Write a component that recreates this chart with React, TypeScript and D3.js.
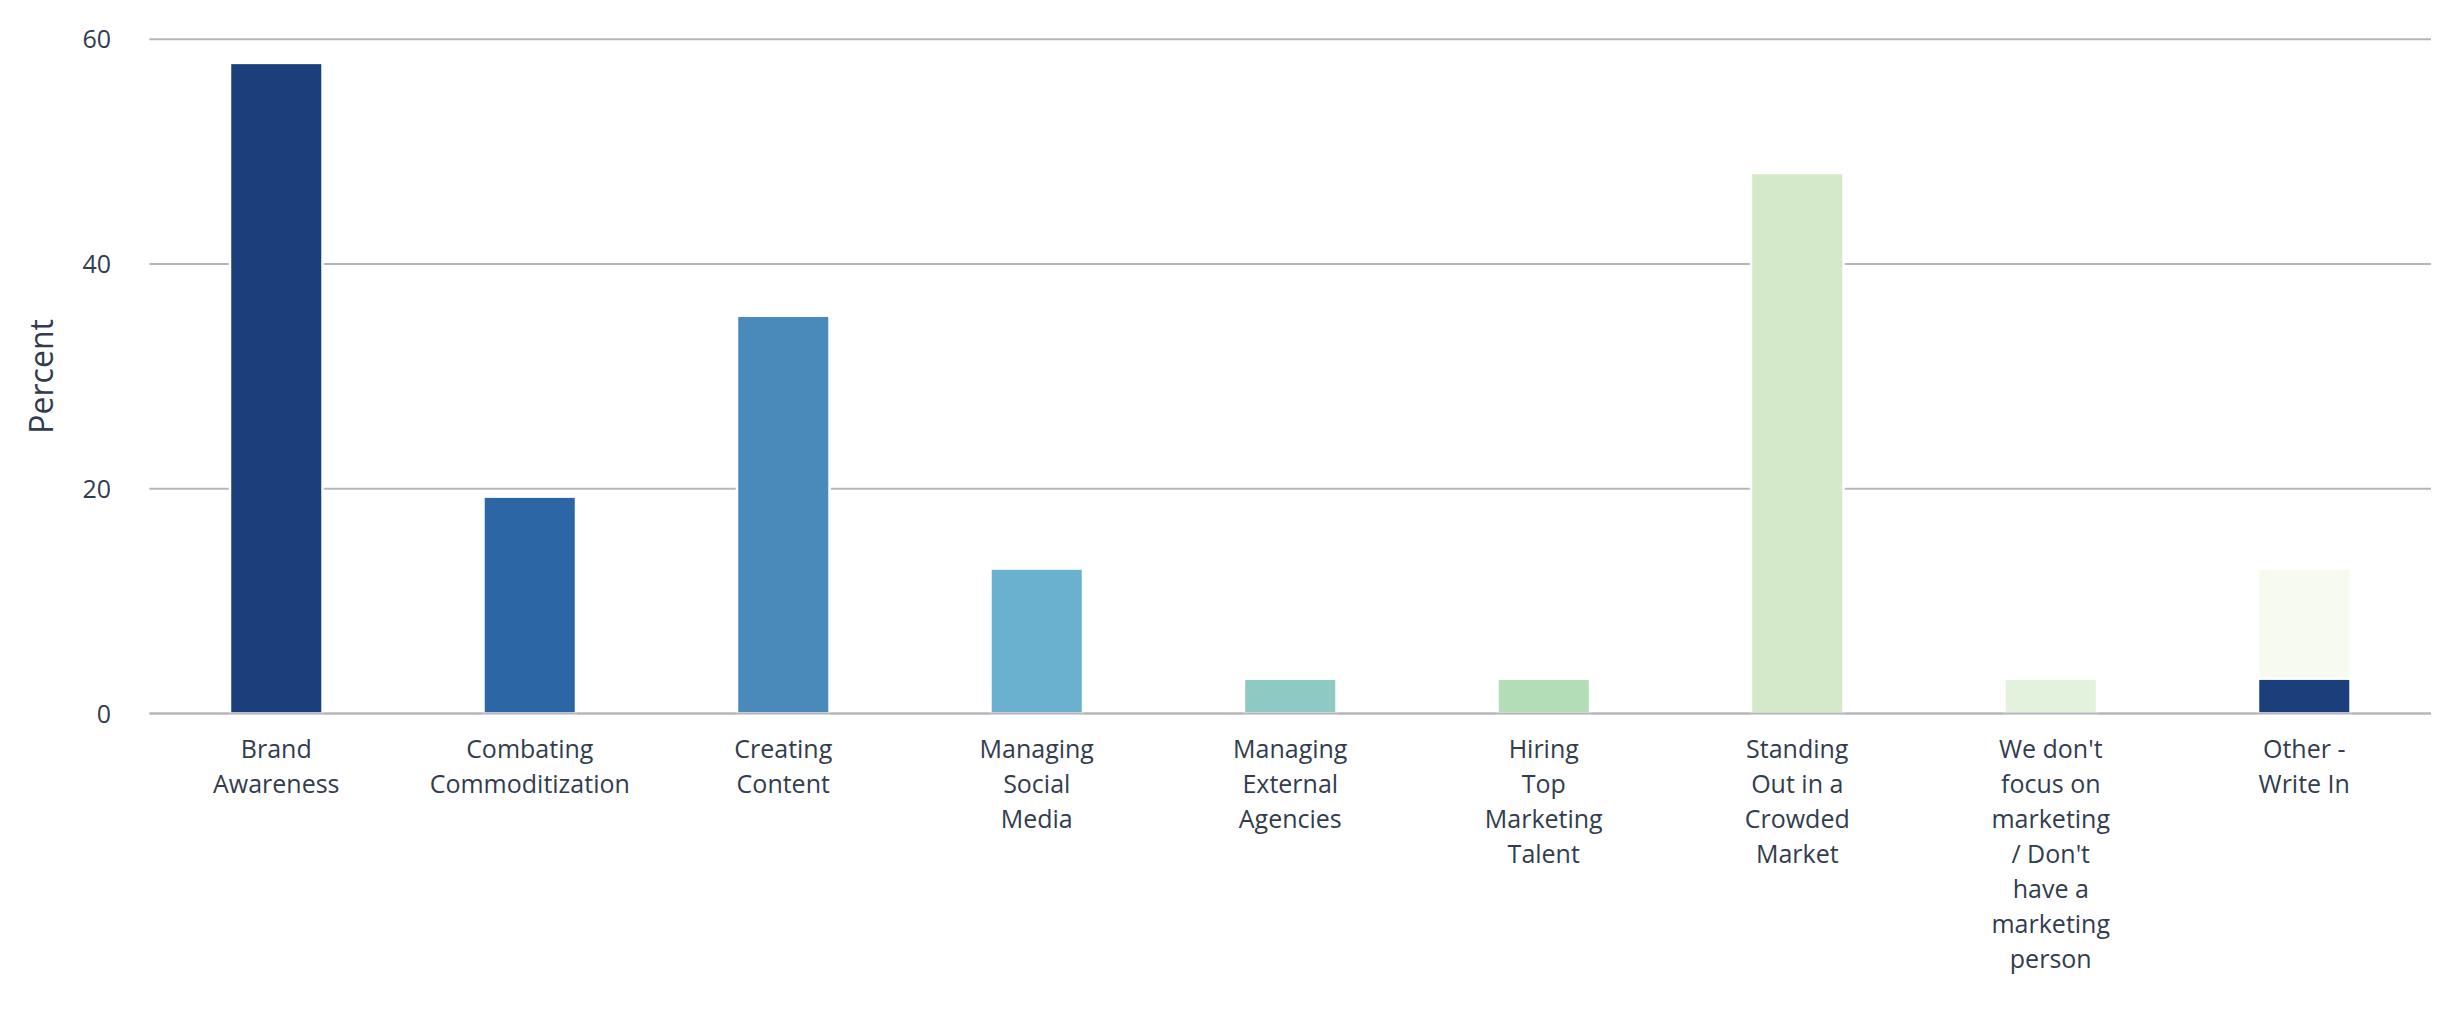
import React from "react";
import * as d3 from "d3";

const categories: string[][] = [
  ["Brand", "Awareness"],
  ["Combating", "Commoditization"],
  ["Creating", "Content"],
  ["Managing", "Social", "Media"],
  ["Managing", "External", "Agencies"],
  ["Hiring", "Top", "Marketing", "Talent"],
  ["Standing", "Out in a", "Crowded", "Market"],
  ["We don't", "focus on", "marketing", "/ Don't", "have a", "marketing", "person"],
  ["Other -", "Write In"],
];

const values: number[] = [57.9, 19.3, 35.4, 12.9, 3.1, 3.1, 48.1, 3.1, 12.9];
// second (overlaid) segment shown only on the last category
const overlayValues: (number | null)[] = [null, null, null, null, null, null, null, null, 3.1];

const barColors: string[] = [
  "#1b3f7b",
  "#2c66a5",
  "#4a8aba",
  "#6ab0cf",
  "#8ec9c3",
  "#b3ddb7",
  "#d3e9ca",
  "#e3f2dc",
  "#f7fbef",
];
const overlayColor = "#1b3f7b";

const yTicks: number[] = [0, 20, 40, 60];
const yTitle = "Percent";

const W = 2462;
const H = 1026;
const plotLeft = 149.5;
const plotRight = 2431;
const yZero = 713.5;
const ySixty = 39.3;
const textColor = "#323c4f";
const gridColor = "#b4b6bb";
const font = "'Open Sans', 'Noto Sans', sans-serif";

export default function App() {
  const x = d3
    .scaleBand<number>()
    .domain(categories.map((_, i) => i))
    .range([plotLeft, plotRight])
    .padding(0);
  const y = d3.scaleLinear().domain([0, 60]).range([yZero, ySixty]);
  const barW = x.bandwidth() * 0.365;

  return (
    <svg
      width={W}
      height={H}
      style={{ position: "absolute", left: 0, top: 0, background: "#fff" }}
      fontFamily={font}
    >
      {yTicks.map((t) => (
        <g key={t}>
          <line
            x1={plotLeft}
            x2={plotRight}
            y1={y(t)}
            y2={y(t)}
            stroke={gridColor}
            strokeWidth={2}
          />
          <text
            x={111}
            y={y(t)}
            dy="0.36em"
            textAnchor="end"
            fontSize={25}
            fill={textColor}
          >
            {t}
          </text>
        </g>
      ))}
      <text
        transform={`translate(52.5,${(y(0) + y(60)) / 2}) rotate(-90)`}
        textAnchor="middle"
        fontSize={32}
        fill={textColor}
      >
        {yTitle}
      </text>
      {values.map((v, i) => {
        const cx = (x(i) as number) + x.bandwidth() / 2;
        return (
          <rect
            key={"b" + i}
            x={cx - barW / 2}
            y={y(v)}
            width={barW}
            height={y(0) - y(v)}
            fill={barColors[i]}
            stroke="#fff"
            strokeWidth={2.5}
          />
        );
      })}
      {overlayValues.map((v, i) => {
        if (v == null) return null;
        const cx = (x(i) as number) + x.bandwidth() / 2;
        return (
          <rect
            key={"o" + i}
            x={cx - barW / 2}
            y={y(v)}
            width={barW}
            height={y(0) - y(v)}
            fill={overlayColor}
            stroke="#fff"
            strokeWidth={2.5}
          />
        );
      })}
      <line
        x1={plotLeft}
        x2={plotRight}
        y1={y(0)}
        y2={y(0)}
        stroke={gridColor}
        strokeWidth={2}
      />
      {categories.map((lines, i) => {
        const cx = (x(i) as number) + x.bandwidth() / 2;
        return (
          <text key={"l" + i} textAnchor="middle" fontSize={25} fill={textColor}>
            {lines.map((ln, j) => (
              <tspan key={j} x={cx} y={758 + j * 35}>
                {ln}
              </tspan>
            ))}
          </text>
        );
      })}
    </svg>
  );
}
